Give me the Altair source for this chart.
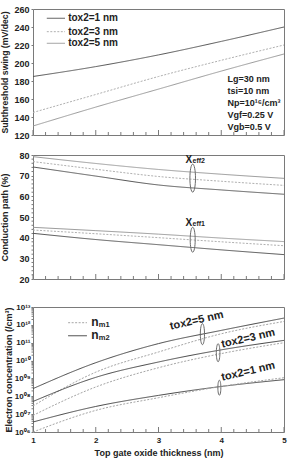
import altair as alt
import pandas as pd

FONT = "Liberation Sans"
FRAME = "#7a7a7a"

# ---------------- data ----------------
thickness = [1, 2, 3, 4, 5]
series_keys = ["tox1", "tox3", "tox5"]
tox_labels = ["tox2=1 nm", "tox2=3 nm", "tox2=5 nm"]

# panel 1: subthreshold swing (mV/dec)
ss_tox1 = [185, 196, 209, 224, 240]
ss_tox3 = [145, 165, 185, 203, 220]
ss_tox5 = [130, 151, 171, 191, 210]

# panel 2: conduction path (%)
xeff2_tox1 = [74.2, 69.8, 65.5, 63.1, 61.0]
xeff2_tox3 = [76.8, 73.1, 69.6, 67.3, 65.3]
xeff2_tox5 = [79.2, 75.9, 73.0, 70.7, 68.7]
xeff1_tox1 = [42.1, 39.1, 36.6, 34.1, 31.8]
xeff1_tox3 = [43.7, 41.9, 40.0, 38.0, 36.1]
xeff1_tox5 = [45.0, 43.4, 41.7, 39.8, 38.1]

# panel 3: electron concentration, log10 exponents (/cm^3)
nm2_tox5 = [8.43, 9.88, 10.95, 11.69, 12.38]
nm1_tox5 = [7.46, 9.35, 10.48, 11.50, 12.19]
nm2_tox3 = [7.71, 9.06, 9.92, 10.60, 11.13]
nm1_tox3 = [6.93, 8.52, 9.60, 10.39, 11.00]
nm2_tox1 = [6.56, 7.43, 8.05, 8.55, 8.93]
nm1_tox1 = [6.00, 7.21, 7.92, 8.55, 9.04]

# axis ticks / labels
x_major = [1, 2, 3, 4, 5]
x_minor = [1.2, 1.4, 1.6, 1.8, 2.2, 2.4, 2.6, 2.8, 3.2, 3.4, 3.6, 3.8,
           4.2, 4.4, 4.6, 4.8]
ss_ticks = [120, 140, 160, 180, 200, 220, 240, 260]
cp_ticks = [20, 30, 40, 50, 60, 70, 80]
cp_minor = [22, 24, 26, 28, 32, 34, 36, 38, 42, 44, 46, 48, 52, 54, 56, 58,
            62, 64, 66, 68, 72, 74, 76, 78]
ec_ticks = [1e6, 1e7, 1e8, 1e9, 1e10, 1e11, 1e12, 1e13]
ec_tick_labels = ["10⁰⁶", "10⁰⁷", "10⁰⁸", "10⁰⁹", "10¹⁰", "10¹¹", "10¹²", "10¹³"]
ec_minor = [m * 10 ** k for k in range(6, 13) for m in range(2, 10)]

# annotations
p1_legend_x = [1.22, 1.51]
p1_legend_y = [249.7, 234.8, 221.9]
p1_legend_text_x = 1.56
cond_lines = ["Lg=30 nm", "tsi=10 nm", "Np=10¹⁶/cm³", "Vgf=0.25 V", "Vgb=0.5 V"]
cond_x = 4.10
cond_y = [182.2, 169.2, 155.2, 142.2, 129.2]

xeff_names = ["eff2", "eff1"]
xeff_label_x = 3.43
xeff_label_y = [77.6, 46.9]
xeff_ell_x = 3.545
xeff_ell_y = [68.8, 39.0]

p3_legend_x = [1.56, 1.86]
p3_legend_y = [10 ** 12.12, 10 ** 11.39]
p3_legend_keys = ["nm1", "nm2"]
p3_legend_sub = ["m1", "m2"]
p3_legend_text_x = 1.93

tox_ann_text = ["tox2=5 nm", "tox2=3 nm", "tox2=1 nm"]
tox_ann_x = [3.61, 4.43, 4.43]
tox_ann_y = [10 ** 12.23, 10 ** 11.23, 10 ** 9.38]
tox_ell_x = [3.70, 3.95, 3.97]
tox_ell_y = [10 ** 11.48, 10 ** 10.44, 10 ** 8.48]

# ---------------- dimensions / styles ----------------
W = 251
H1, H2, H3 = 126, 124, 125

ELLIPSE = "M0,-1A0.2,1,0,1,1,0,1A0.2,1,0,1,1,0,-1Z"

xscale = alt.Scale(domain=[1, 5], nice=False, zero=False)

style_keys = ["tox1", "tox3", "tox5", "nm1", "nm2"]
style_color = alt.Scale(domain=style_keys,
                        range=["#555555", "#b0b0b0", "#9a9a9a", "#a5a5a5", "#474747"])
style_dash = alt.Scale(domain=style_keys,
                       range=[[1, 0], [2, 1.5], [1, 0], [2, 1.5], [1, 0]])


def col(f):
    return alt.Color(f"{f}:N", scale=style_color, legend=None)


def dash(f):
    return alt.StrokeDash(f"{f}:N", scale=style_dash, legend=None)


def long_df(xs, cols):
    rows = []
    for key, vals in cols.items():
        for x, v in zip(xs, vals):
            rows.append({"x": x, "v": v, "s": key})
    return pd.DataFrame(rows)


def x_ticks_layers(xenc, h):
    major = alt.Chart(pd.DataFrame({"x": x_major})).mark_rule(
        color=FRAME, strokeWidth=1).encode(x=xenc("x"), y=alt.value(h), y2=alt.value(h - 5))
    minor = alt.Chart(pd.DataFrame({"x": x_minor})).mark_rule(
        color=FRAME, strokeWidth=1).encode(x=xenc("x"), y=alt.value(h), y2=alt.value(h - 3))
    return [major, minor]


def ellipse(x, y, xenc, yenc, height):
    return alt.Chart(pd.DataFrame({"x": [x], "v": [y]})).mark_point(
        shape=ELLIPSE, filled=False, stroke="#6a6a6a", strokeWidth=1,
        size=height * height, opacity=1).encode(x=xenc("x"), y=yenc("v"))


# ---------------- panel 1 ----------------
def x1(f):
    return alt.X(f"{f}:Q", scale=xscale, axis=None)


y1_axis = alt.Axis(values=ss_ticks, title="Subthreshold swing (mV/dec)", tickSize=2,
                   labelPadding=2, titlePadding=4, domain=False, grid=False, titleFontSize=8.7)


def y1(f):
    return alt.Y(f"{f}:Q", scale=alt.Scale(domain=[120, 260], nice=False, zero=False), axis=y1_axis)


df1 = long_df(thickness, {"tox1": ss_tox1, "tox3": ss_tox3, "tox5": ss_tox5})
lines1 = alt.Chart(df1).mark_line(strokeWidth=1, interpolate="monotone").encode(
    x=x1("x"), y=y1("v"), color=col("s"), strokeDash=dash("s"))
leg1_df = pd.DataFrame({"x": [p1_legend_x[0]] * 3, "x2": [p1_legend_x[1]] * 3,
                        "v": p1_legend_y, "s": series_keys, "label": tox_labels,
                        "tx": [p1_legend_text_x] * 3})
leg1_lines = alt.Chart(leg1_df).mark_rule(strokeWidth=1).encode(
    x=x1("x"), x2="x2:Q", y=y1("v"), color=col("s"), strokeDash=dash("s"))
leg1_text = alt.Chart(leg1_df).mark_text(
    align="left", baseline="middle", font=FONT, fontWeight="bold", fontSize=10, color="#222"
).encode(x=x1("tx"), y=y1("v"), text="label:N")
cond_df = pd.DataFrame({"x": [cond_x] * len(cond_lines), "v": cond_y, "t": cond_lines})
cond_text = alt.Chart(cond_df).mark_text(
    align="left", baseline="middle", font=FONT, fontWeight="bold", fontSize=9, color="#222"
).encode(x=x1("x"), y=y1("v"), text="t:N")

p1 = alt.layer(lines1, leg1_lines, leg1_text, cond_text, *x_ticks_layers(x1, H1)).properties(
    width=W, height=H1)

# ---------------- panel 2 ----------------
def x2f(f):
    return alt.X(f"{f}:Q", scale=xscale, axis=None)


y2_axis = alt.Axis(values=cp_ticks, title="Conduction path (%)", tickSize=2,
                   labelPadding=2, titlePadding=9, domain=False, grid=False)
y2scale = alt.Scale(domain=[20, 80], nice=False, zero=False)


def y2f(f):
    return alt.Y(f"{f}:Q", scale=y2scale, axis=y2_axis)


df2a = long_df(thickness, {"tox1": xeff2_tox1, "tox3": xeff2_tox3, "tox5": xeff2_tox5})
df2b = long_df(thickness, {"tox1": xeff1_tox1, "tox3": xeff1_tox3, "tox5": xeff1_tox5})
df2b["s2"] = df2b["s"] + "_b"
df2a["s2"] = df2a["s"] + "_a"
df2 = pd.concat([df2a, df2b], ignore_index=True)
lines2 = alt.Chart(df2).mark_line(strokeWidth=1, interpolate="monotone").encode(
    x=x2f("x"), y=y2f("v"), detail="s2:N", color=col("s"), strokeDash=dash("s"))
xl_df = pd.DataFrame({"x": [xeff_label_x] * 2, "v": xeff_label_y, "sub": xeff_names,
                      "big": ["X", "X"]})
xl_big = alt.Chart(xl_df).mark_text(
    align="left", baseline="alphabetic", font=FONT, fontWeight="bold", fontSize=10, color="#222", dy=3
).encode(x=x2f("x"), y=y2f("v"), text="big:N")
xl_sub = alt.Chart(xl_df).mark_text(
    align="left", baseline="alphabetic", font=FONT, fontWeight="bold", fontSize=7, color="#222", dx=7, dy=3
).encode(x=x2f("x"), y=y2f("v"), text="sub:N")
ell2 = [ellipse(xeff_ell_x, xeff_ell_y[0], x2f, y2f, 28), ellipse(xeff_ell_x, xeff_ell_y[1], x2f, y2f, 25)]
ymin2 = alt.Chart(pd.DataFrame({"v": cp_minor})).mark_rule(color=FRAME).encode(
    y=y2f("v"), x=alt.value(-1.5), x2=alt.value(0))

p2 = alt.layer(lines2, xl_big, xl_sub, *ell2, ymin2, *x_ticks_layers(x2f, H2)).properties(
    width=W, height=H2)

# ---------------- panel 3 ----------------
x3_axis = alt.Axis(values=x_major, format="d", title="Top gate oxide thickness (nm)", ticks=False,
                   domain=False, grid=False, labelPadding=4, titlePadding=4, labelFlush=False,
                   labelFontSize=8)


def x3f(f):
    return alt.X(f"{f}:Q", scale=xscale, axis=x3_axis)


label_expr = "[" + ",".join("'%s'" % s for s in ec_tick_labels) + "][round(log(datum.value)/LN10)-6]"
y3_axis = alt.Axis(values=ec_ticks, labelExpr=label_expr, title="Electron concentration (/cm³)",
                   tickSize=2, labelPadding=1, titlePadding=1, domain=False, grid=False,
                   labelFontSize=8)
y3scale = alt.Scale(type="log", domain=[1e6, 1e13], nice=False)


def y3f(f):
    return alt.Y(f"{f}:Q", scale=y3scale, axis=y3_axis)


rows3 = []
for key, tox, vals in [("nm2", "5", nm2_tox5), ("nm1", "5", nm1_tox5), ("nm2", "3", nm2_tox3),
                       ("nm1", "3", nm1_tox3), ("nm2", "1", nm2_tox1), ("nm1", "1", nm1_tox1)]:
    for x, e in zip(thickness, vals):
        rows3.append({"x": x, "v": 10 ** e, "k": key, "g": key + tox})
df3 = pd.DataFrame(rows3)
lines3 = alt.Chart(df3).mark_line(strokeWidth=1, interpolate="monotone").encode(
    x=x3f("x"), y=y3f("v"), detail="g:N", color=col("k"), strokeDash=dash("k"))
leg3_df = pd.DataFrame({"x": [p3_legend_x[0]] * 2, "x2": [p3_legend_x[1]] * 2, "v": p3_legend_y,
                        "k": p3_legend_keys, "sub": p3_legend_sub, "n": ["n", "n"],
                        "tx": [p3_legend_text_x] * 2})
leg3_lines = alt.Chart(leg3_df).mark_rule(strokeWidth=1).encode(
    x=x3f("x"), x2="x2:Q", y=y3f("v"), color=col("k"), strokeDash=dash("k"))
leg3_n = alt.Chart(leg3_df).mark_text(
    align="left", baseline="alphabetic", font=FONT, fontWeight="bold", fontSize=12, color="#222", dy=3
).encode(x=x3f("tx"), y=y3f("v"), text="n:N")
leg3_sub = alt.Chart(leg3_df).mark_text(
    align="left", baseline="alphabetic", font=FONT, fontWeight="bold", fontSize=7.5, color="#222", dx=7.5, dy=4
).encode(x=x3f("tx"), y=y3f("v"), text="sub:N")
ann3_df = pd.DataFrame({"x": tox_ann_x, "v": tox_ann_y, "t": tox_ann_text})
ann3 = alt.Chart(ann3_df).mark_text(
    align="center", baseline="middle", font=FONT, fontWeight="bold", fontSize=11, color="#222", angle=347
).encode(x=x3f("x"), y=y3f("v"), text="t:N")
ell3 = [ellipse(tox_ell_x[0], tox_ell_y[0], x3f, y3f, 21),
        ellipse(tox_ell_x[1], tox_ell_y[1], x3f, y3f, 18),
        ellipse(tox_ell_x[2], tox_ell_y[2], x3f, y3f, 15)]
ymin3 = alt.Chart(pd.DataFrame({"v": ec_minor})).mark_rule(color=FRAME).encode(
    y=y3f("v"), x=alt.value(-1.5), x2=alt.value(0))

p3 = alt.layer(lines3, leg3_lines, leg3_n, leg3_sub, ann3, *ell3, ymin3,
               *x_ticks_layers(x3f, H3)).properties(width=W, height=H3)

top = alt.vconcat(p1, p2, spacing=9)
chart = alt.vconcat(top, p3, spacing=17).properties(
    padding={"left": 0, "right": 1, "top": 4, "bottom": 1}
).configure(background="white").configure_view(
    stroke=FRAME, strokeWidth=1
).configure_axis(
    labelFont=FONT, titleFont=FONT, labelFontWeight="bold", titleFontWeight="bold",
    labelFontSize=9, titleFontSize=9, labelColor="#222", titleColor="#222", tickColor=FRAME,
    labelOverlap=False
)

chart.save("out.html", embed_options={"renderer": "svg", "actions": False})
